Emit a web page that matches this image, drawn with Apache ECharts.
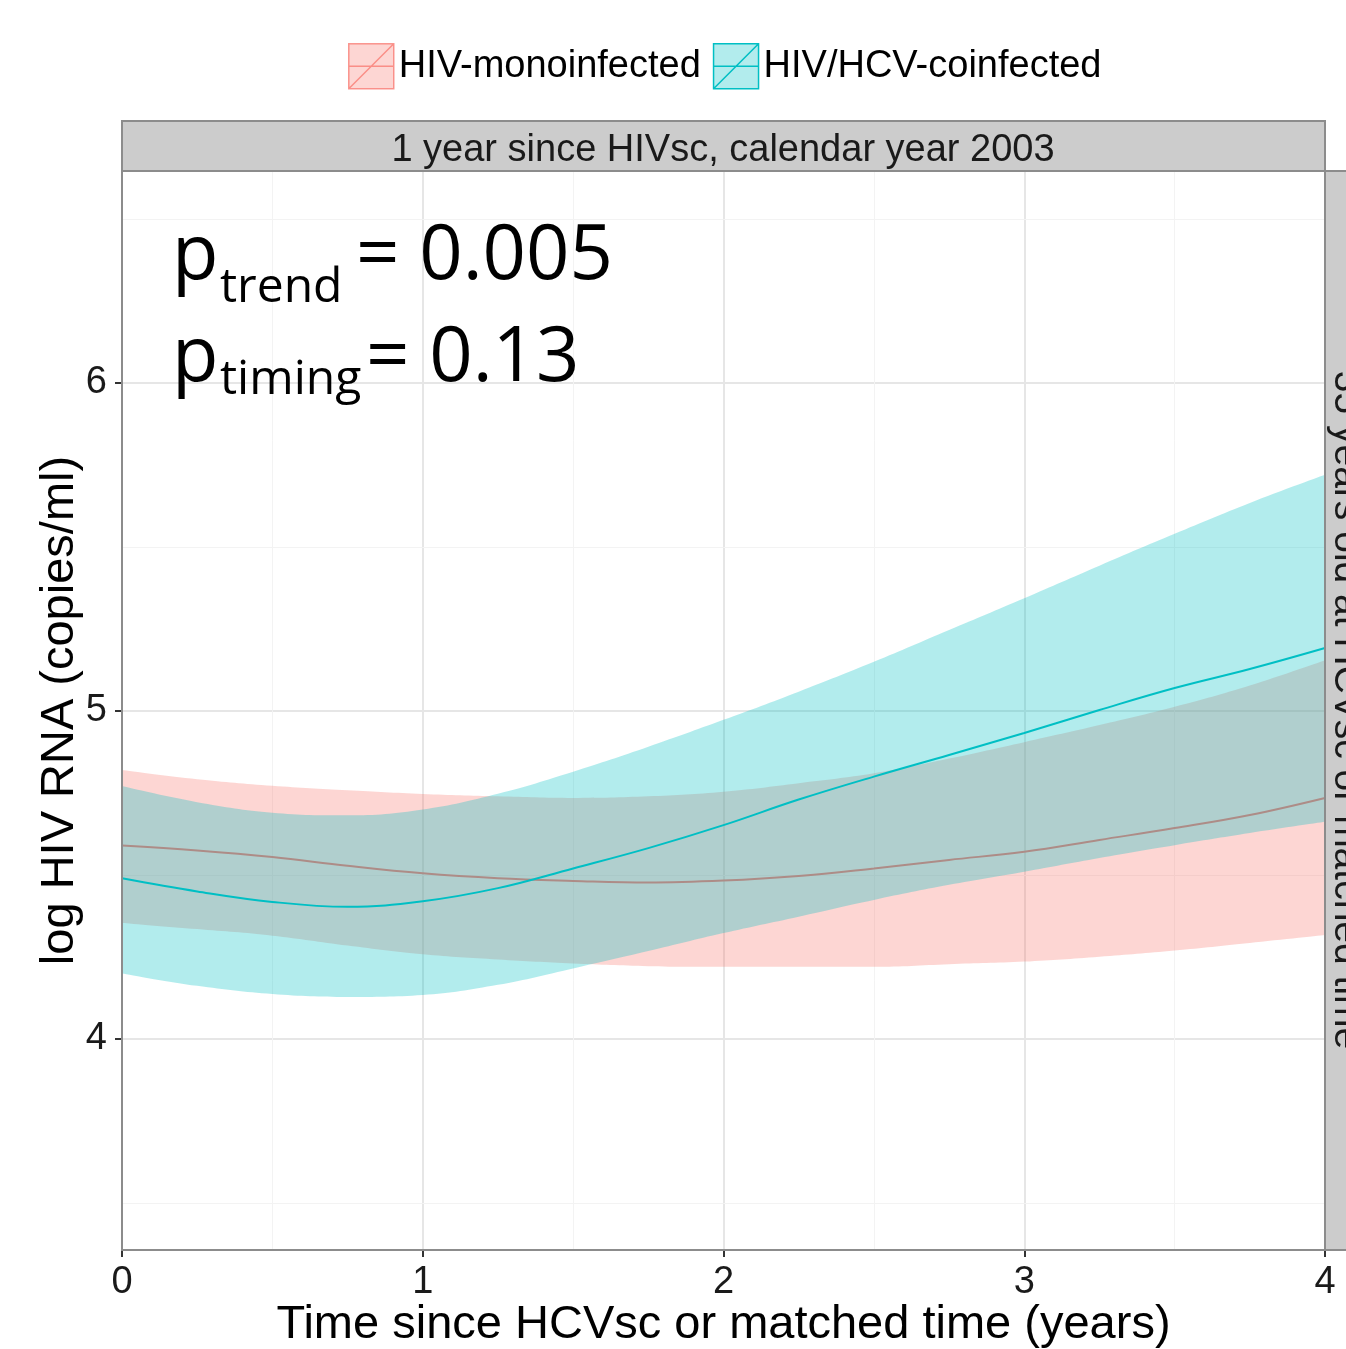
<!DOCTYPE html>
<html>
<head>
<meta charset="utf-8">
<script src="https://cdn.jsdelivr.net/npm/echarts@6/dist/echarts.min.js"></script>
<style>
  html, body { margin: 0; padding: 0; background: #fff; }
  #main { width: 1346px; height: 1349px; }
</style>
</head>
<body>
<div id="main"></div>
<script>
// time since HCVsc (years)
var years = [0, 0.25, 0.5, 0.75, 1, 1.25, 1.5, 1.75, 2, 2.25, 2.5, 2.75, 3, 3.25, 3.5, 3.75, 4];

// HIV-monoinfected: fit + 95% band
var monoFit = [4.59, 4.575, 4.555, 4.528, 4.505, 4.49, 4.482, 4.477, 4.483, 4.497, 4.52, 4.546, 4.571, 4.607, 4.643, 4.683, 4.735];
var monoLo  = [4.354, 4.335, 4.315, 4.285, 4.258, 4.242, 4.23, 4.222, 4.22, 4.22, 4.22, 4.228, 4.236, 4.251, 4.27, 4.293, 4.317];
var monoHi  = [4.82, 4.792, 4.772, 4.758, 4.747, 4.74, 4.735, 4.74, 4.754, 4.78, 4.81, 4.855, 4.905, 4.957, 5.013, 5.078, 5.155];

// HIV/HCV-coinfected: fit + 95% band
var coFit = [4.49, 4.45, 4.418, 4.403, 4.42, 4.46, 4.52, 4.582, 4.652, 4.73, 4.80, 4.866, 4.933, 5.003, 5.07, 5.128, 5.192];
var coLo  = [4.20, 4.162, 4.137, 4.128, 4.134, 4.165, 4.215, 4.268, 4.323, 4.373, 4.424, 4.47, 4.51, 4.552, 4.591, 4.628, 4.662];
var coHi  = [4.771, 4.722, 4.69, 4.682, 4.70, 4.748, 4.815, 4.891, 4.973, 5.059, 5.15, 5.247, 5.344, 5.443, 5.54, 5.634, 5.72];

var yLabels = [4, 5, 6];
var yMinor = [3.5, 4.5, 5.5, 6.5];
var xMinor = [0.5, 1.5, 2.5, 3.5];

var RED = '#F8766D', TEAL = '#00BFC4';
var FONT = 'Liberation Sans';

function diff(hi, lo) { return hi.map(function (v, i) { return +(v - lo[i]).toFixed(4); }); }

var gridLines = yLabels.map(function (v) {
    return { yAxis: v, lineStyle: { color: '#E6E6E6', width: 2, type: 'solid' } };
}).concat(yMinor.map(function (v) {
    return { yAxis: v, lineStyle: { color: '#F3F3F3', width: 1, type: 'solid' } };
})).concat(xMinor.map(function (v) {
    return { xAxis: String(v), lineStyle: { color: '#F3F3F3', width: 1, type: 'solid' } };
}));

var chart = echarts.init(document.getElementById('main'));
chart.setOption({
    animation: false,
    backgroundColor: '#fff',
    grid: { left: 122, right: 21, top: 171, bottom: 99, outerBoundsMode: 'none', containLabel: false },
    legend: {
        left: 348, top: 43, padding: 0,
        itemWidth: 45, itemHeight: 45, itemGap: 12,
        textStyle: { fontSize: 38, fontFamily: FONT, color: '#000', padding: [10, 0, 0, 0] },
        data: [
            { name: 'HIV-monoinfected', icon: 'path://M0 0H45V45H0Z M0 45L45 0 M0 22.5H45',
              itemStyle: { color: 'rgba(248,118,109,0.3)', borderColor: 'rgba(248,118,109,0.75)', borderWidth: 1.5 } },
            { name: 'HIV/HCV-coinfected', icon: 'path://M0 0H45V45H0Z M0 45L45 0 M0 22.5H45',
              itemStyle: { color: 'rgba(0,191,196,0.3)', borderColor: TEAL, borderWidth: 1.5 } }
        ]
    },
    xAxis: {
        type: 'category', boundaryGap: false,
        data: years.map(String),
        name: 'Time since HCVsc or matched time (years)',
        nameLocation: 'middle', nameGap: 52, nameMoveOverlap: false,
        nameTextStyle: { fontSize: 47, fontFamily: FONT, color: '#000' },
        axisLine: { show: false },
        axisTick: { show: true, interval: 3, length: 7, lineStyle: { color: '#333', width: 2 } },
        axisLabel: { interval: 3, fontSize: 38, fontFamily: FONT, color: '#1a1a1a', margin: 14 },
        splitLine: { show: true, interval: 3, lineStyle: { color: '#E6E6E6', width: 2 } }
    },
    yAxis: {
        type: 'value', min: 3.3567, max: 6.6463,
        name: 'log HIV RNA (copies/ml)',
        nameLocation: 'middle', nameGap: 38, nameMoveOverlap: false,
        nameTextStyle: { fontSize: 47, fontFamily: FONT, color: '#000' },
        axisLine: { show: false },
        axisTick: { show: true, length: 7, customValues: yLabels, lineStyle: { color: '#333', width: 2 } },
        axisLabel: { fontSize: 38, fontFamily: FONT, color: '#1a1a1a', margin: 15, customValues: yLabels },
        splitLine: { show: false }
    },
    series: [
        { name: 'monoBase', type: 'line', z: 2, stack: 'mono', data: monoLo, smooth: 0.4,
          symbol: 'none', lineStyle: { opacity: 0 }, silent: true,
          markLine: { z: 1, silent: true, symbol: 'none', label: { show: false }, data: gridLines } },
        { name: 'HIV-monoinfected', type: 'line', z: 2, stack: 'mono', data: diff(monoHi, monoLo), smooth: 0.4,
          symbol: 'none', lineStyle: { opacity: 0 }, areaStyle: { color: 'rgba(248,118,109,0.3)', opacity: 1 },
          itemStyle: { color: RED } },
        { name: 'HIV-monoinfected', type: 'line', z: 2, data: monoFit, smooth: 0.4,
          symbol: 'none', lineStyle: { color: RED, width: 2 }, itemStyle: { color: RED } },
        { name: 'coBase', type: 'line', z: 3, stack: 'co', data: coLo, smooth: 0.4,
          symbol: 'none', lineStyle: { opacity: 0 }, silent: true },
        { name: 'HIV/HCV-coinfected', type: 'line', z: 3, stack: 'co', data: diff(coHi, coLo), smooth: 0.4,
          symbol: 'none', lineStyle: { opacity: 0 }, areaStyle: { color: 'rgba(0,191,196,0.3)', opacity: 1 },
          itemStyle: { color: TEAL } },
        { name: 'HIV/HCV-coinfected', type: 'line', z: 4, data: coFit, smooth: 0.4,
          symbol: 'none', lineStyle: { color: TEAL, width: 2 }, itemStyle: { color: TEAL } }
    ],
    graphic: [
        // panel border
        { type: 'rect', z: 100, silent: true, shape: { x: 122, y: 171, width: 1203, height: 1079 },
          style: { fill: 'none', stroke: '#8c8c8c', lineWidth: 2 } },
        // top strip
        { type: 'rect', z: 100, silent: true, shape: { x: 122, y: 121, width: 1203, height: 50 },
          style: { fill: '#CCCCCC', stroke: '#8c8c8c', lineWidth: 2 } },
        { type: 'text', z: 101, silent: true, x: 723, y: 151,
          style: { text: '1 year since HIVsc, calendar year 2003', fontSize: 38, fontFamily: FONT,
                   fill: '#1a1a1a', align: 'center', verticalAlign: 'middle' } },
        // right strip (cut off by the image edge)
        { type: 'rect', z: 100, silent: true, shape: { x: 1325, y: 171, width: 40, height: 1079 },
          style: { fill: '#CCCCCC', stroke: '#8c8c8c', lineWidth: 2 } },
        { type: 'text', z: 101, silent: true, x: 1346, y: 710, rotation: -Math.PI / 2,
          style: { text: '35 years old at HCVsc or matched time', fontSize: 39, fontFamily: FONT,
                   fill: '#1a1a1a', align: 'center', verticalAlign: 'middle' } },
        // p-value annotation
        { type: 'text', z: 101, silent: true, x: 172, y: 257,
          style: { text: 'p', fontSize: 76, fontFamily: 'Open Sans', fill: '#000', verticalAlign: 'middle' } },
        { type: 'text', z: 101, silent: true, x: 220, y: 288,
          style: { text: 'trend', fontSize: 48, fontFamily: 'Open Sans', fill: '#000', verticalAlign: 'middle' } },
        { type: 'text', z: 101, silent: true, x: 356, y: 257,
          style: { text: '= 0.005', fontSize: 76, fontFamily: 'Open Sans', fill: '#000', verticalAlign: 'middle' } },
        { type: 'text', z: 101, silent: true, x: 172, y: 359,
          style: { text: 'p', fontSize: 76, fontFamily: 'Open Sans', fill: '#000', verticalAlign: 'middle' } },
        { type: 'text', z: 101, silent: true, x: 220, y: 380,
          style: { text: 'timing', fontSize: 48, fontFamily: 'Open Sans', fill: '#000', verticalAlign: 'middle' } },
        { type: 'text', z: 101, silent: true, x: 366, y: 359,
          style: { text: '= 0.13', fontSize: 76, fontFamily: 'Open Sans', fill: '#000', verticalAlign: 'middle' } }
    ]
});
</script>
</body>
</html>
